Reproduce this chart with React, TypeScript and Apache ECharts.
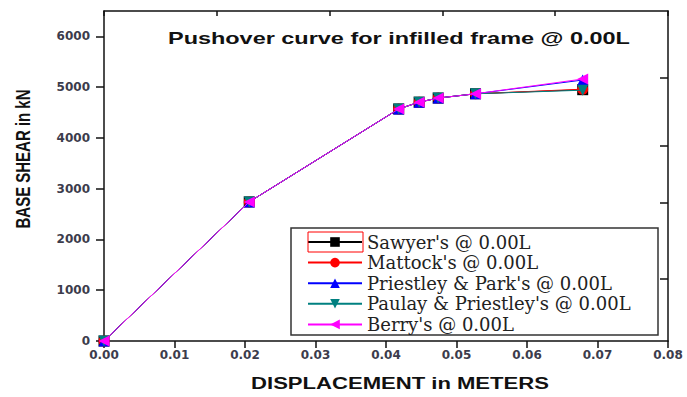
import React, { useEffect, useRef } from "react";
import * as echarts from "echarts";

const displacement = [0, 0.0206, 0.0418, 0.0447, 0.0474, 0.0527, 0.0679];
const sawyer = [0, 2740, 4570, 4705, 4785, 4870, 4950];
const mattock = [0, 2740, 4570, 4705, 4785, 4870, 4960];
const priestleyPark = [0, 2740, 4570, 4705, 4785, 4870, 5140];
const paulayPriestley = [0, 2740, 4570, 4705, 4785, 4870, 4940];
const berry = [0, 2740, 4570, 4705, 4785, 4870, 5160];

const seriesNames = [
  "Sawyer's @ 0.00L",
  "Mattock's @ 0.00L",
  "Priestley & Park's @ 0.00L",
  "Paulay & Priestley's @ 0.00L",
  "Berry's @ 0.00L",
];
const seriesValues = [sawyer, mattock, priestleyPark, paulayPriestley, berry];
const seriesColors = ["#000000", "#ff0000", "#0000ff", "#008080", "#ff00ff"];
const seriesSymbols = ["rect", "circle", "triangle", "triangle", "triangle"];
const seriesRotate = [0, 0, 0, 180, 90];

const yTickValues = [0, 1000, 2000, 3000, 4000, 5000, 6000];
const rightTickValues = [5194, 3836, 2715, 1220];

const titleText = "Pushover curve for infilled frame @ 0.00L";
const xName = "DISPLACEMENT in METERS";
const yName = "BASE SHEAR in kN";

export default function App() {
  const ref = useRef<HTMLDivElement>(null);
  useEffect(() => {
    if (!ref.current) return;
    const chart = echarts.init(ref.current, undefined, { renderer: "svg" });
    const labelFont = {
      fontFamily: "DejaVu Sans",
      fontWeight: "bold" as const,
      fontSize: 12,
      color: "#3c3c4c",
    };
    chart.setOption({
      animation: false,
      backgroundColor: "#ffffff",
      grid: { left: 104, right: 19, top: 11, bottom: 56, containLabel: false, outerBoundsMode: "none" },
      xAxis: [
        {
          type: "value",
          position: "bottom",
          min: 0,
          max: 0.08,
          interval: 0.01,
          axisLine: { show: true, onZero: false, lineStyle: { color: "#111", width: 1.5 } },
          axisTick: { show: true, inside: false, length: 7, lineStyle: { color: "#111", width: 1.5 } },
          axisLabel: { ...labelFont, margin: 8, formatter: (v: number) => v.toFixed(2) },
          splitLine: { show: false },
        },
        {
          type: "value",
          position: "top",
          min: 0,
          max: 0.08,
          interval: 0.016,
          axisLine: { show: true, onZero: false, lineStyle: { color: "#111", width: 1.5 } },
          axisTick: { show: true, inside: true, length: 5, lineStyle: { color: "#111", width: 1.5 } },
          axisLabel: { show: false },
          splitLine: { show: false },
        },
      ],
      yAxis: [
        {
          type: "value",
          position: "left",
          min: 0,
          max: 6500,
          interval: 1000,
          axisLine: { show: true, onZero: false, lineStyle: { color: "#111", width: 1.5 } },
          axisTick: { show: true, inside: false, length: 8, customValues: yTickValues, lineStyle: { color: "#111", width: 1.5 } },
          axisLabel: { ...labelFont, margin: 14, customValues: yTickValues, formatter: (v: number) => String(v) },
          splitLine: { show: false },
        },
        {
          type: "value",
          position: "right",
          min: 0,
          max: 6500,
          axisLine: { show: true, onZero: false, lineStyle: { color: "#111", width: 1.5 } },
          axisTick: { show: true, inside: true, length: 8, customValues: rightTickValues, lineStyle: { color: "#111", width: 1.5 } },
          axisLabel: { show: false },
          splitLine: { show: false },
        },
      ],
      legend: {
        orient: "vertical",
        left: 307,
        top: 233,
        padding: 0,
        itemWidth: 54,
        itemHeight: 12,
        itemGap: 2.6,
        textStyle: { fontFamily: "DejaVu Serif", fontSize: 18, lineHeight: 18, color: "#222" },
        data: seriesNames,
      },
      series: seriesNames.map((name, i) => ({
        name,
        type: "line",
        xAxisIndex: 0,
        yAxisIndex: 0,
        data: displacement.map((x, j) => [x, seriesValues[i][j]]),
        symbol: seriesSymbols[i],
        symbolRotate: seriesRotate[i],
        symbolSize: 11,
        showAllSymbol: true,
        lineStyle: { color: seriesColors[i], width: 1 },
        itemStyle: { color: seriesColors[i] },
        z: 2 + i,
      })),
      graphic: [
        {
          type: "text",
          x: 168,
          y: 29,
          scaleX: 1.38,
          style: {
            text: titleText,
            fontFamily: "Liberation Sans",
            fontWeight: "bold",
            fontSize: 17,
            fill: "#111",
            textAlign: "left",
            textVerticalAlign: "top",
          },
        },
        {
          type: "text",
          x: 400,
          y: 384,
          scaleX: 1.38,
          style: {
            text: xName,
            fontFamily: "Liberation Sans",
            fontWeight: "bold",
            fontSize: 16,
            fill: "#111",
            textAlign: "center",
            textVerticalAlign: "middle",
          },
        },
        {
          type: "text",
          x: 23,
          y: 159,
          rotation: Math.PI / 2,
          scaleY: 1.3,
          style: {
            text: yName,
            fontFamily: "Liberation Sans",
            fontWeight: "bold",
            fontSize: 15,
            fill: "#111",
            textAlign: "center",
            textVerticalAlign: "middle",
          },
        },
        {
          type: "rect",
          shape: { x: 291, y: 228, width: 367, height: 107 },
          style: { fill: "none", stroke: "#333", lineWidth: 1.5 },
          z: 0,
        },
        {
          type: "rect",
          shape: { x: 308, y: 232, width: 55, height: 20 },
          style: { fill: "none", stroke: "#ff0000", lineWidth: 1 },
          z: 10,
        },
      ],
    });
    return () => chart.dispose();
  }, []);
  return (
    <div
      ref={ref}
      style={{ position: "fixed", left: 0, top: 0, width: 687, height: 397, background: "#fff" }}
    />
  );
}
